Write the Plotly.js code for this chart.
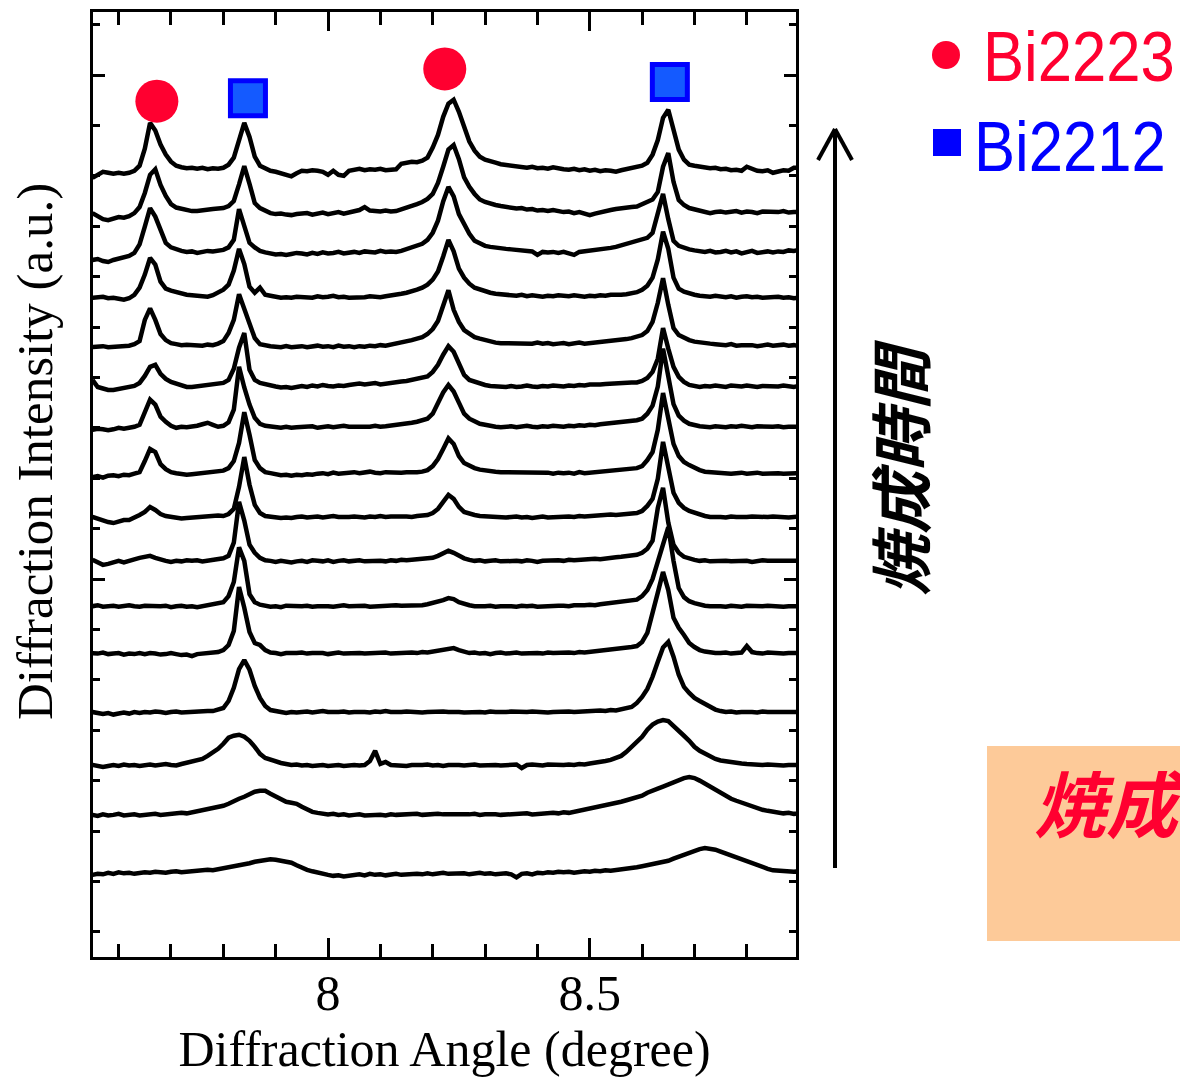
<!DOCTYPE html>
<html>
<head>
<meta charset="utf-8">
<script src="https://cdn.plot.ly/plotly-3.0.1.min.js"></script>
<style>
  html, body { margin: 0; padding: 0; background: #fff; }
  #chart { width: 1180px; height: 1078px; }
</style>
</head>
<body>
<div id="chart"></div>
<script>
// Diffraction angle grid (degree), shared by every scan
const angle = [
  7.55, 7.56, 7.57, 7.58, 7.59, 7.60, 7.61, 7.62, 7.63, 7.64,
  7.65, 7.66, 7.67, 7.68, 7.69, 7.70, 7.71, 7.72, 7.73, 7.74,
  7.75, 7.76, 7.77, 7.78, 7.79, 7.80, 7.81, 7.82, 7.83, 7.84,
  7.85, 7.86, 7.87, 7.88, 7.89, 7.90, 7.91, 7.92, 7.93, 7.94,
  7.95, 7.96, 7.97, 7.98, 7.99, 8.00, 8.01, 8.02, 8.03, 8.04,
  8.05, 8.06, 8.07, 8.08, 8.09, 8.10, 8.11, 8.12, 8.13, 8.14,
  8.15, 8.16, 8.17, 8.18, 8.19, 8.20, 8.21, 8.22, 8.23, 8.24,
  8.25, 8.26, 8.27, 8.28, 8.29, 8.30, 8.31, 8.32, 8.33, 8.34,
  8.35, 8.36, 8.37, 8.38, 8.39, 8.40, 8.41, 8.42, 8.43, 8.44,
  8.45, 8.46, 8.47, 8.48, 8.49, 8.50, 8.51, 8.52, 8.53, 8.54,
  8.55, 8.56, 8.57, 8.58, 8.59, 8.60, 8.61, 8.62, 8.63, 8.64,
  8.65, 8.66, 8.67, 8.68, 8.69, 8.70, 8.71, 8.72, 8.73, 8.74,
  8.75, 8.76, 8.77, 8.78, 8.79, 8.80, 8.81, 8.82, 8.83, 8.84,
  8.85, 8.86, 8.87, 8.88, 8.89, 8.90
];

// Intensity of each scan (a.u.), relative to its own baseline.
// scan01 = shortest sintering time (bottom), scan16 = longest (top).
const scan01 = [
  -0.4, -0.2, -0.3, 0.0, -0.2, 0.1, -0.1, 0.0, -0.2, 0.0,
  0.1, 0.0, 0.2, 0.1, 0.0, 0.2, 0.3, 0.1, 0.2, 0.4,
  0.3, 0.5, 0.6, 0.5, 0.7, 0.8, 1.0, 1.2, 1.3, 1.6,
  1.9, 2.2, 2.4, 2.6, 2.7, 2.6, 2.4, 2.3, 2.0, 1.5,
  1.0, 0.6, 0.3, 0.0, -0.2, -0.4, -0.6, -0.5, -0.7, -0.5,
  -0.4, -0.3, -0.5, -0.2, -0.4, -0.3, -0.5, -0.4, -0.2, -0.4,
  -0.3, -0.4, -0.2, -0.3, -0.1, -0.3, -0.2, 0.0, -0.2, -0.1,
  -0.2, -0.1, -0.3, -0.2, 0.0, -0.2, -0.1, -0.3, -0.2, -0.1,
  -0.3, -0.9, -0.2, -0.1, -0.3, 0.0, -0.1, 0.1, 0.0, 0.2,
  0.1, 0.2, 0.0, 0.2, 0.3, 0.2, 0.4, 0.3, 0.5, 0.4,
  0.5, 0.6, 0.8, 1.0, 1.1, 1.3, 1.5, 1.6, 1.8, 2.0,
  2.4, 2.8, 3.2, 3.6, 4.0, 4.4, 4.7, 4.9, 4.8, 4.6,
  4.2, 3.8, 3.4, 3.0, 2.6, 2.2, 1.8, 1.4, 1.1, 0.8,
  0.5, 0.4, 0.2, 0.3, 0.2, 0.3
];
const scan02 = [
  0.0, -0.2, 0.1, -0.1, 0.0, 0.2, -0.1, 0.0, 0.1, -0.1,
  0.0, 0.1, 0.2, 0.0, 0.1, 0.3, 0.2, 0.4, 0.3, 0.5,
  0.6, 0.8, 1.0, 1.2, 1.5, 1.8, 2.2, 2.8, 3.2, 3.6,
  4.2, 4.6, 4.8, 4.8, 4.2, 3.6, 3.0, 2.6, 2.4, 2.2,
  1.6, 1.0, 0.6, 0.4, 0.2, 0.1, 0.2, 0.0, 0.1, -0.1,
  0.0, 0.1, -0.1, 0.0, 0.1, 0.0, -0.1, 0.1, 0.0, 0.1,
  0.0, 0.1, 0.2, 0.0, 0.1, 0.0, 0.2, 0.1, 0.0, 0.1,
  0.1, 0.0, 0.1, 0.2, 0.0, 0.1, 0.2, 0.1, 0.0, 0.1,
  0.2, 0.1, 0.2, 0.3, 0.1, 0.2, 0.3, 0.2, 0.4, 0.3,
  0.5, 0.4, 0.6, 0.8, 1.0, 1.2, 1.4, 1.6, 1.8, 2.1,
  2.4, 2.6, 2.9, 3.2, 3.5, 3.8, 4.4, 4.9, 5.2, 5.6,
  6.0, 6.5, 7.0, 7.3, 7.5, 7.3, 6.8, 6.2, 5.4, 4.8,
  4.2, 3.6, 3.2, 2.8, 2.4, 2.0, 1.6, 1.4, 1.0, 0.8,
  0.6, 0.5, 0.3, 0.4, 0.2, 0.3
];
const scan03 = [
  0.0, -0.2, -0.4, -0.2, 0.0, -0.2, 0.1, -0.1, 0.0, -0.2,
  0.0, 0.1, -0.1, 0.0, 0.2, 0.0, -0.1, 0.2, 0.4, 0.6,
  0.8, 1.2, 1.8, 2.4, 3.2, 4.2, 5.4, 5.8, 6.0, 5.6,
  4.8, 3.6, 2.2, 1.4, 1.0, 0.6, 0.4, 0.2, 0.0, 0.1,
  -0.1, 0.0, -0.2, -0.1, 0.0, -0.2, -0.1, 0.0, -0.2, 0.0,
  0.0, -0.1, 0.0, 0.8, 2.8, 0.2, 0.6, 0.0, -0.1, 0.0,
  -0.2, 0.0, -0.1, 0.0, 0.1, -0.1, 0.0, -0.2, 0.0, 0.1,
  0.0, -0.1, 0.0, 0.1, -0.1, 0.0, 0.1, 0.0, -0.1, 0.0,
  0.0, 0.1, -0.6, 0.0, 0.1, 0.0, -0.1, 0.1, 0.0, 0.1,
  0.0, 0.1, 0.0, 0.2, 0.1, 0.3, 0.4, 0.6, 0.8, 1.0,
  1.4, 1.8, 2.6, 3.6, 4.6, 5.6, 7.0, 8.0, 8.6, 8.9,
  8.7, 7.8, 6.8, 5.8, 4.8, 3.6, 2.8, 2.2, 1.6, 1.2,
  0.9, 0.7, 0.5, 0.4, 0.3, 0.2, 0.1, 0.2, 0.0, 0.1,
  0.0, 0.1, -0.1, 0.0, 0.1, 0.0
];
const scan04 = [
  0.0, -0.2, -0.4, -0.2, -0.5, -0.3, -0.1, -0.3, 0.0, -0.2,
  0.0, -0.1, 0.1, 0.0, -0.2, 0.0, 0.1, -0.1, 0.0, 0.1,
  0.0, 0.1, 0.2, 0.2, 0.4, 0.8, 2.2, 4.8, 8.5, 10.3,
  8.4, 5.2, 2.8, 1.2, 0.4, 0.1, 0.0, -0.2, 0.0, -0.1,
  0.0, 0.1, -0.1, 0.0, 0.2, 0.0, -0.1, 0.0, 0.1, -0.1,
  0.0, 0.1, 0.0, -0.1, 0.1, 0.0, 0.2, 0.0, -0.1, 0.0,
  0.1, 0.0, 0.1, -0.1, 0.0, 0.1, 0.2, 0.1, 0.0, 0.1,
  0.0, -0.1, 0.0, 0.1, 0.0, -0.1, 0.1, 0.0, -0.1, 0.0,
  0.1, 0.0, -0.1, 0.0, 0.1, 0.0, 0.1, -0.1, 0.0, 0.1,
  0.0, 0.1, 0.0, 0.1, 0.2, 0.1, 0.2, 0.3, 0.2, 0.4,
  0.3, 0.5, 0.6, 1.0, 1.8, 3.0, 4.6, 7.0, 10.0, 12.8,
  13.9, 11.0, 7.4, 5.0, 3.8, 2.8, 2.2, 1.6, 1.0, 0.5,
  0.2, 0.0, 0.1, -0.1, 0.0, 0.1, 0.0, -0.1, 0.1, 0.0,
  0.0, 0.1, -0.1, 0.0, 0.1, 0.0
];
const scan05 = [
  0.0, -0.1, 0.1, -0.2, -0.1, 0.0, -0.3, -0.1, -0.2, 0.0,
  -0.2, 0.0, -0.1, -0.3, -0.2, 0.0, -0.2, -0.4, -0.3, -0.6,
  -0.2, -0.1, 0.0, 0.1, 0.2, 0.6, 1.6, 4.4, 13.1, 9.0,
  4.2, 2.0, 1.6, 0.6, 0.1, 0.0, -0.2, 0.0, -0.1, 0.0,
  0.1, -0.1, 0.0, 0.1, 0.0, -0.2, 0.0, 0.1, -0.1, 0.0,
  0.1, 0.0, -0.1, 0.0, 0.1, 0.0, 0.1, -0.1, 0.0, 0.1,
  0.0, 0.1, 0.0, 0.2, 0.1, 0.3, 0.4, 0.6, 0.8, 1.0,
  0.6, 0.2, 0.0, 0.1, -0.1, 0.0, -0.2, 0.0, 0.1, -0.1,
  0.0, 0.1, -0.1, 0.0, 0.1, 0.0, -0.1, 0.1, 0.0, 0.1,
  0.0, 0.1, 0.0, 0.2, 0.1, 0.2, 0.3, 0.4, 0.5, 0.7,
  0.8, 0.9, 1.0, 1.2, 1.4, 2.2, 4.0, 7.6, 12.0, 16.1,
  12.5, 7.0, 5.0, 3.6, 2.0, 1.2, 0.6, 0.3, 0.1, 0.0,
  0.0, 0.1, -0.1, 0.0, 0.1, 1.4, 0.2, 0.0, -0.1, 0.1,
  0.0, 0.1, -0.1, 0.0, 0.1, 0.0
];
const scan06 = [
  0.0, 0.2, -0.1, 0.0, 0.1, -0.1, 0.0, 0.2, 0.0, -0.1,
  0.1, 0.0, -0.1, 0.0, 0.1, -0.2, 0.0, 0.1, -0.1, 0.0,
  -0.2, 0.0, 0.2, 0.4, 0.5, 0.8, 2.0, 4.8, 11.7, 9.0,
  2.4, 0.8, 0.3, 0.0, -0.1, 0.0, -0.2, 0.1, 0.0, -0.1,
  0.0, 0.1, -0.1, 0.0, 0.1, 0.0, -0.1, 0.0, 0.2, 0.0,
  0.1, 0.0, 0.1, -0.1, 0.0, 0.1, 0.0, 0.1, 0.2, 0.1,
  0.1, 0.2, 0.1, 0.2, 0.4, 0.6, 0.8, 1.2, 1.6, 1.4,
  0.8, 0.4, 0.2, 0.0, -0.1, 0.0, 0.1, -0.1, 0.0, 0.1,
  0.0, -0.1, 0.1, 0.0, 0.1, -0.1, 0.0, 0.1, 0.0, 0.1,
  0.1, 0.0, 0.2, 0.1, 0.2, 0.3, 0.2, 0.4, 0.5, 0.6,
  0.8, 0.9, 1.0, 1.1, 1.3, 2.0, 3.2, 5.4, 9.0, 12.0,
  15.7, 9.0, 3.6, 1.8, 1.0, 0.6, 0.3, 0.1, 0.0, 0.1,
  0.0, -0.1, 0.1, 0.0, -0.1, 0.1, 0.0, -0.1, 0.0, 0.1,
  0.0, 0.1, -0.1, 0.0, 0.1, 0.0
];
const scan07 = [
  0.2, -0.4, -0.8, -0.6, -0.2, 0.0, -0.3, 0.1, 0.3, 0.6,
  0.7, 1.0, 0.6, 0.2, 0.0, -0.2, 0.0, -0.1, 0.1, 0.0,
  0.1, -0.1, 0.0, 0.2, 0.3, 0.5, 1.0, 3.6, 11.7, 8.0,
  3.2, 1.6, 0.6, 0.1, 0.0, -0.2, 0.0, -0.1, -0.3, -0.1,
  0.0, -0.2, 0.1, 0.0, -0.1, 0.1, -0.2, 0.0, 0.1, -0.1,
  0.0, 0.1, -0.1, 0.0, 0.1, 0.0, -0.1, 0.1, 0.0, 0.2,
  0.1, 0.2, 0.1, 0.3, 0.4, 0.6, 1.0, 1.6, 2.0, 1.6,
  1.0, 0.5, 0.2, 0.0, 0.1, -0.1, 0.0, 0.1, -0.1, 0.0,
  0.1, 0.0, -0.1, 0.1, 0.0, -0.2, 0.0, 0.1, 0.0, 0.1,
  0.0, 0.2, 0.1, 0.2, 0.3, 0.2, 0.4, 0.3, 0.5, 0.6,
  0.7, 0.8, 0.9, 1.0, 1.2, 1.6, 2.4, 4.0, 10.5, 14.5,
  7.6, 3.2, 1.6, 0.8, 0.4, 0.2, 0.0, 0.1, -0.1, 0.0,
  0.1, 0.0, -0.1, 0.0, 0.1, 0.0, -0.2, 0.0, 0.1, 0.0,
  0.0, 0.1, -0.1, 0.0, 0.1, 0.0
];
const scan08 = [
  0.0, -0.4, -0.8, -1.0, -1.2, -0.9, -0.6, -0.6, -0.2, 0.4,
  1.0, 2.0, 1.4, 0.6, 0.2, 0.0, -0.2, -0.3, -0.2, -0.1,
  -0.1, 0.0, 0.2, 0.1, 0.3, 0.2, 0.6, 1.6, 6.0, 11.9,
  6.4, 2.4, 0.8, 0.2, 0.0, -0.1, -0.2, -0.1, -0.2, 0.0,
  0.1, -0.1, 0.0, 0.1, -0.1, 0.0, 0.2, 0.0, -0.1, 0.0,
  0.1, 0.0, -0.1, 0.1, 0.0, 0.2, 0.0, 0.1, 0.0, 0.1,
  0.1, 0.0, 0.2, 0.3, 0.4, 0.8, 1.6, 3.0, 4.4, 3.6,
  2.0, 1.0, 0.6, 0.4, 0.2, 0.1, 0.0, -0.1, 0.0, -0.1,
  0.0, 0.1, -0.1, 0.0, -0.2, 0.0, 0.1, -0.1, 0.0, 0.1,
  0.0, 0.1, 0.0, 0.2, 0.1, 0.2, 0.3, 0.2, 0.4, 0.5,
  0.4, 0.5, 0.6, 0.7, 0.8, 1.2, 2.2, 3.6, 7.6, 14.9,
  9.6, 4.8, 2.8, 1.8, 1.2, 0.8, 0.5, 0.2, 0.0, 0.1,
  0.0, -0.1, 0.1, 0.0, -0.1, 0.0, 0.1, 0.0, -0.1, 0.0,
  0.1, 0.0, 0.0, -0.1, 0.0, 0.1
];
const scan09 = [
  -0.8, -0.6, -0.9, -0.5, -0.4, -0.6, -0.3, -0.4, -0.1, 0.2,
  2.4, 4.8, 4.2, 1.8, 0.8, 0.2, 0.0, -0.2, -0.3, -0.2,
  -0.1, 0.0, 0.2, 0.3, 0.4, 0.5, 1.0, 2.4, 6.0, 12.1,
  7.6, 2.6, 1.0, 0.2, 0.0, -0.2, -0.4, -0.3, -0.5, -0.3,
  -0.4, -0.2, -0.3, -0.1, 0.0, -0.2, 0.1, -0.1, 0.0, 0.2,
  0.2, 0.0, 0.1, 0.3, 0.1, 0.0, 0.2, 0.1, 0.2, 0.1,
  0.2, 0.1, 0.2, 0.3, 0.6, 1.4, 2.8, 4.8, 6.9, 5.8,
  3.4, 2.0, 1.4, 1.0, 0.7, 0.5, 0.4, 0.3, 0.2, 0.2,
  0.1, 0.2, 0.0, 0.2, 0.1, 0.0, 0.2, 0.1, -0.1, 0.1,
  0.0, 0.1, -0.1, 0.2, 0.0, 0.1, 0.2, 0.1, 0.3, 0.4,
  0.5, 0.6, 0.7, 0.8, 1.0, 1.4, 2.6, 4.2, 8.6, 15.9,
  11.0, 5.8, 3.4, 2.2, 1.6, 1.0, 0.6, 0.3, 0.2, 0.1,
  0.0, 0.1, -0.1, 0.0, 0.1, -0.1, 0.0, 0.1, -0.1, 0.0,
  0.1, 0.0, -0.1, 0.0, 0.1, 0.0
];
const scan10 = [
  -0.6, -0.4, -0.5, -0.7, -0.5, -0.2, -0.4, -0.3, 0.0, 0.4,
  2.8, 5.4, 4.4, 2.0, 1.0, 0.2, -0.2, 0.0, -0.1, 0.0,
  0.2, 0.5, 0.8, 0.4, 0.0, 0.2, 0.9, 3.4, 11.9, 7.8,
  4.4, 1.8, 0.6, 0.2, 0.0, -0.1, -0.2, 0.0, -0.2, -0.1,
  0.0, -0.1, 0.1, -0.2, 0.0, 0.1, -0.1, 0.0, 0.2, 0.0,
  0.0, 0.1, -0.1, 0.0, 0.2, 0.0, 0.1, 0.2, 0.3, 0.5,
  0.6, 0.8, 1.0, 1.2, 1.6, 2.6, 4.6, 6.8, 8.3, 7.0,
  4.8, 2.6, 1.6, 1.0, 0.6, 0.4, 0.1, 0.0, -0.1, 0.0,
  0.1, -0.1, 0.0, 0.2, 0.0, -0.1, 0.1, 0.0, 0.2, 0.1,
  0.0, 0.2, 0.1, 0.3, 0.2, 0.4, 0.3, 0.5, 0.6, 0.8,
  0.8, 0.9, 1.0, 1.1, 1.3, 1.6, 2.6, 4.2, 8.0, 15.5,
  10.5, 4.5, 2.2, 1.2, 0.6, 0.3, 0.1, 0.0, -0.1, 0.1,
  0.0, -0.1, 0.1, 0.0, 0.2, 0.0, -0.1, 0.1, 0.0, -0.1,
  0.0, 0.1, -0.1, 0.0, 0.1, 0.0
];
const scan11 = [
  1.2, -0.2, -0.5, -0.8, -0.8, -0.6, -0.5, -0.3, 0.0, 0.6,
  2.0, 3.8, 4.2, 2.4, 1.4, 0.8, 0.4, 0.2, -0.2, -0.2,
  -0.1, 0.0, 0.2, 0.3, 0.4, 0.6, 1.2, 3.4, 7.6, 10.5,
  3.2, 1.2, 0.6, 0.3, 0.1, -0.1, -0.3, -0.2, -0.4, -0.2,
  0.0, -0.2, 0.1, -0.1, 0.2, 0.0, -0.1, 0.1, 0.0, 0.2,
  0.4, 0.5, 0.3, 0.4, 0.6, 0.3, 0.5, 0.6, 0.7, 0.9,
  1.0, 1.2, 1.4, 1.6, 1.9, 2.8, 4.2, 6.2, 7.9, 6.8,
  4.4, 2.2, 1.2, 0.8, 0.4, 0.2, 0.0, -0.1, 0.0, -0.2,
  0.0, -0.2, -0.1, 0.1, -0.1, -0.2, 0.0, -0.1, 0.1, 0.0,
  -0.1, 0.1, 0.0, 0.2, 0.1, 0.3, 0.2, 0.3, 0.4, 0.5,
  0.4, 0.5, 0.6, 0.7, 0.7, 1.0, 1.6, 2.8, 5.4, 11.5,
  7.4, 3.8, 1.8, 0.8, 0.2, 0.0, -0.2, 0.0, -0.1, 0.1,
  0.0, -0.2, 0.1, 0.0, -0.1, 0.1, 0.0, -0.2, 0.0, -0.1,
  0.0, -0.1, 0.1, 0.0, -0.2, 0.0
];
const scan12 = [
  -0.4, -0.3, -0.2, -0.4, -0.3, -0.2, -0.3, -0.1, 0.2, 0.8,
  5.0, 7.3, 5.0, 2.2, 1.0, 0.4, 0.2, 0.0, 0.1, 0.0,
  0.0, -0.1, 0.1, 0.0, 0.3, 0.8, 2.4, 5.0, 10.1, 7.0,
  4.0, 1.4, 0.2, -0.1, -0.2, -0.3, -0.4, -0.2, -0.4, -0.3,
  -0.2, -0.4, -0.3, -0.1, -0.3, -0.2, -0.4, -0.1, -0.3, -0.2,
  -0.4, -0.2, -0.3, -0.1, -0.2, 0.0, -0.1, 0.1, 0.2, 0.6,
  0.8, 1.0, 1.3, 1.6, 2.2, 3.2, 4.8, 8.0, 10.9, 7.0,
  4.6, 3.0, 2.2, 1.6, 1.3, 1.0, 0.8, 0.5, 0.4, 0.4,
  0.3, 0.4, 0.2, 0.4, 0.3, 0.5, 0.3, 0.4, 0.2, 0.3,
  0.4, 0.2, 0.3, 0.5, 0.3, 0.4, 0.6, 0.5, 0.7, 0.8,
  0.9, 1.0, 1.2, 1.4, 1.6, 2.0, 2.8, 4.6, 8.4, 13.3,
  8.0, 3.4, 2.0, 1.4, 1.0, 0.7, 0.5, 0.4, 0.3, 0.2,
  0.1, 0.0, 0.2, -0.1, 0.0, 0.1, 0.0, -0.2, 0.0, 0.1,
  -0.1, 0.0, 0.1, -0.1, 0.0, -0.2
];
const scan13 = [
  -0.2, -0.2, 0.0, -0.3, -0.2, -0.4, -0.6, -0.3, 0.4, 1.8,
  4.4, 7.7, 6.4, 3.0, 1.6, 1.2, 0.9, 0.6, 0.4, 0.3,
  0.2, 0.1, 0.0, 0.3, 0.8, 1.4, 2.4, 5.2, 9.5, 6.5,
  2.0, 0.8, 1.8, 0.4, 0.2, 0.0, -0.2, -0.1, -0.2, 0.0,
  -0.1, 0.0, -0.2, 0.1, -0.1, 0.0, 0.2, -0.1, 0.0, -0.2,
  -0.2, 0.0, -0.1, 0.1, 0.0, -0.1, 0.1, 0.2, 0.3, 0.6,
  0.8, 1.0, 1.4, 1.8, 2.4, 3.4, 5.0, 8.0, 11.3, 9.0,
  5.6, 3.8, 2.6, 1.8, 1.4, 1.0, 0.8, 0.6, 0.5, 0.4,
  0.3, 0.2, 0.4, 0.1, 0.3, 0.2, 0.0, 0.2, 0.1, 0.3,
  0.2, 0.1, 0.3, 0.2, 0.0, 0.2, 0.1, 0.3, 0.2, 0.4,
  0.3, 0.4, 0.5, 0.7, 0.9, 1.4, 2.2, 3.8, 7.4, 12.9,
  9.5, 3.8, 1.6, 1.0, 0.6, 0.4, 0.2, 0.1, 0.0, 0.2,
  0.0, -0.1, 0.1, -0.2, 0.0, 0.1, -0.1, 0.0, -0.2, -0.1,
  -0.1, 0.0, -0.2, -0.1, -0.3, -0.2
];
const scan14 = [
  -1.6, -1.4, -1.8, -2.0, -1.6, -1.4, -1.2, -0.8, -0.2, 1.5,
  5.0, 8.7, 7.0, 4.2, 1.8, 0.9, 0.5, 0.2, 0.0, 0.1,
  -0.2, 0.0, 0.2, 0.1, 0.3, 0.4, 0.9, 2.4, 8.5, 5.4,
  1.8, 0.9, 0.2, -0.1, -0.3, -0.5, -0.4, -0.6, -0.4, -0.2,
  -0.3, -0.5, -0.2, -0.4, -0.1, -0.3, -0.2, 0.0, -0.3, -0.1,
  0.0, -0.2, 0.1, 0.0, -0.1, 0.2, 0.0, 0.1, 0.0, 0.2,
  0.5, 0.8, 1.1, 1.6, 2.4, 3.8, 6.2, 10.0, 12.9, 11.0,
  7.5, 5.4, 3.6, 2.2, 1.6, 1.2, 1.0, 0.8, 0.7, 0.6,
  0.5, 0.4, 0.3, 0.2, 0.1, -0.6, 0.0, -0.1, 0.0, -0.2,
  0.0, -0.3, -0.6, 0.0, 0.1, 0.2, 0.3, 0.5, 0.6, 0.8,
  1.0, 1.3, 1.5, 1.7, 2.0, 2.4, 2.8, 3.8, 7.5, 11.5,
  6.5, 2.2, 1.2, 0.8, 0.5, 0.3, 0.2, 0.0, 0.2, -0.1,
  0.0, 0.2, -0.1, 0.1, -0.3, 0.0, 0.2, -0.2, 0.0, 0.1,
  -0.1, 0.1, 0.0, 0.3, 0.2, 0.4
];
const scan15 = [
  -0.2, -0.8, -1.4, -1.6, -1.2, -1.0, -1.1, -0.8, -0.2, 1.0,
  3.8, 7.4, 8.5, 5.4, 3.2, 1.6, 0.9, 0.6, 0.4, 0.2,
  0.2, 0.4, 0.5, 0.6, 0.7, 0.8, 1.2, 2.2, 5.5, 9.1,
  5.6, 1.8, 0.8, 0.2, -0.2, -0.4, -0.3, -0.5, -0.6, -0.4,
  -0.4, -0.2, -0.5, -0.3, -0.1, -0.4, -0.2, 0.0, -0.3, -0.1,
  0.2, 0.4, 1.0, 0.3, 0.2, 0.1, 0.3, 0.1, 0.2, 0.5,
  0.9, 1.3, 1.6, 2.0, 2.6, 3.6, 5.8, 9.0, 12.4, 13.3,
  10.5, 6.9, 5.0, 3.6, 2.5, 2.0, 1.6, 1.4, 1.2, 1.0,
  0.9, 0.7, 0.8, 0.5, 0.6, 0.3, 0.4, 0.2, 0.4, 0.1,
  0.0, 0.1, -0.2, 0.0, -0.3, -0.6, -0.3, 0.0, 0.2, 0.4,
  0.6, 0.8, 0.8, 1.0, 1.1, 1.6, 2.0, 2.5, 4.0, 9.0,
  11.7, 6.0, 2.4, 1.4, 0.8, 0.5, 0.3, 0.0, -0.2, 0.0,
  0.1, -0.1, 0.0, 0.2, -0.1, 0.1, 0.0, -0.2, 0.1, 0.0,
  0.1, 0.0, 0.2, -0.1, 0.0, 0.1
];
const scan16 = [
  -1.2, -0.6, 0.0, -0.2, -0.4, -0.2, -0.4, -0.2, 0.2, 1.2,
  4.6, 9.7, 8.2, 5.4, 3.4, 2.0, 1.2, 0.9, 0.7, 0.8,
  0.6, 0.8, 0.5, 0.7, 0.6, 0.8, 1.4, 2.8, 6.3, 9.7,
  6.9, 3.0, 1.2, 0.6, 0.2, 0.0, -0.3, -0.4, -0.9, -0.3,
  0.2, 0.1, 0.3, 0.2, 0.0, -0.6, 0.2, -0.6, -0.8, 0.2,
  0.4, 0.6, 0.3, 0.5, 0.4, 0.6, 0.3, 0.4, 0.5, 1.6,
  1.8, 2.0, 1.9, 2.2, 2.8, 4.8, 7.3, 10.9, 13.5, 14.3,
  11.9, 8.7, 6.0, 4.2, 3.0, 2.4, 2.0, 1.8, 1.5, 1.4,
  1.2, 1.0, 1.1, 0.8, 1.0, 0.7, 0.8, 0.6, 0.9, 0.6,
  0.5, 0.4, 0.6, 0.3, 0.5, 0.2, 0.4, 0.1, 0.3, 0.2,
  0.0, 0.3, 0.5, 0.6, 0.8, 1.2, 1.8, 3.4, 6.3, 10.7,
  12.3, 8.7, 4.4, 2.4, 1.4, 1.2, 1.0, 0.9, 0.7, 0.8,
  0.5, 0.6, 0.3, 0.4, 0.2, 1.0, 0.5, 0.2, 0.1, 0.3,
  -0.2, 0.0, 0.3, 0.2, 0.8, 0.8
];

// Vertical stacking offset of each scan (a.u.), scan01 first
const stackOffset = [16.7, 28.2, 38.1, 48.6, 60.3, 69.6, 78.6, 87.3,
                     96.0, 105.2, 113.3, 121.4, 131.0, 139.9, 147.8, 155.8];

// Peak labels placed above the top scan
const bi2223Angle = [7.673, 8.223];
const bi2223Level = [169.8, 176.2];
const bi2212Angle = [7.847, 8.653];
const bi2212Level = [170.4, 173.6];

const scans = [scan01, scan02, scan03, scan04, scan05, scan06, scan07, scan08,
               scan09, scan10, scan11, scan12, scan13, scan14, scan15, scan16];

const SERIF = 'Liberation Serif, Times New Roman, serif';
const KEYFONT = 'Liberation Sans, Arial, sans-serif';
const CJK = 'Noto Sans CJK JP, Noto Sans CJK SC, sans-serif';
const RED = '#ff0030';
const BLUE = '#0000ff';

const traces = scans.map((scan, k) => ({
  type: 'scatter',
  mode: 'lines',
  name: 'scan ' + (k + 1),
  x: angle,
  y: scan.map(v => v + stackOffset[k]),
  line: {color: '#000', width: 4.5, shape: 'linear'},
  hoverinfo: 'skip'
}));

traces.push({
  type: 'scatter', mode: 'markers', name: 'Bi2223',
  x: bi2223Angle, y: bi2223Level, cliponaxis: false,
  marker: {symbol: 'circle', size: 43, color: RED, line: {width: 0}}
});
traces.push({
  type: 'scatter', mode: 'markers', name: 'Bi2212',
  x: bi2212Angle, y: bi2212Level, cliponaxis: false,
  marker: {symbol: 'square', size: 35, color: '#145aff', line: {color: BLUE, width: 5}}
});

// plot area in pixels: x 93..796, y 12..957
const PW = 703, PH = 945;
const px = p => (p - 93) / PW;
const py = p => (957 - p) / PH;

const shapes = [
  // orange box at the lower right
  {type: 'rect', xref: 'paper', yref: 'paper', x0: px(987), x1: px(1260), y0: py(941), y1: py(746),
   fillcolor: '#fdca99', line: {width: 0}, layer: 'below'},
  // arrow: shaft and open head
  {type: 'line', xref: 'paper', yref: 'paper', x0: px(835), x1: px(835), y0: py(868), y1: py(130),
   line: {color: '#000', width: 4}},
  {type: 'line', xref: 'paper', yref: 'paper', x0: px(818), x1: px(835), y0: py(160), y1: py(129),
   line: {color: '#000', width: 4}},
  {type: 'line', xref: 'paper', yref: 'paper', x0: px(852), x1: px(835), y0: py(160), y1: py(129),
   line: {color: '#000', width: 4}},
  // key symbols
  {type: 'circle', xref: 'paper', yref: 'paper', x0: px(932), x1: px(960), y0: py(69), y1: py(41),
   fillcolor: RED, line: {width: 0}},
  {type: 'rect', xref: 'paper', yref: 'paper', x0: px(933), x1: px(961), y0: py(156), y1: py(129),
   fillcolor: BLUE, line: {width: 0}}
];

const annotations = [
  {text: 'Diffraction Intensity (a.u.)', xref: 'paper', yref: 'paper', x: px(35), y: py(452),
   xanchor: 'center', yanchor: 'middle', textangle: -90, showarrow: false,
   font: {family: SERIF, size: 51, color: '#000'}},
  {text: 'Bi2223', xref: 'paper', yref: 'paper', x: px(981), y: py(57),
   xanchor: 'left', yanchor: 'middle', showarrow: false,
   font: {family: KEYFONT, size: 70, color: RED}},
  {text: 'Bi2212', xref: 'paper', yref: 'paper', x: px(972), y: py(147),
   xanchor: 'left', yanchor: 'middle', showarrow: false,
   font: {family: KEYFONT, size: 70, color: BLUE}},
  {text: '焼成時間', xref: 'paper', yref: 'paper', x: px(898), y: py(468),
   xanchor: 'center', yanchor: 'middle', textangle: -90, showarrow: false,
   font: {family: CJK, size: 62, color: '#000', weight: 700, style: 'italic'}},
  {text: '焼成', xref: 'paper', yref: 'paper', x: px(1032), y: py(800),
   xanchor: 'left', yanchor: 'middle', showarrow: false,
   font: {family: CJK, size: 72, color: RED, weight: 700, style: 'italic'}}
];

const layout = {
  width: 1180, height: 1078,
  margin: {l: 93, r: 384, t: 12, b: 121, pad: 0},
  paper_bgcolor: '#fff', plot_bgcolor: '#fff',
  showlegend: false,
  xaxis: {
    range: [7.551, 8.894],
    tick0: 0, dtick: 0.5,
    ticks: 'inside', ticklen: 19, tickwidth: 3, tickcolor: '#000',
    minor: {tick0: 0, dtick: 0.1, ticks: 'inside', ticklen: 13, tickwidth: 3, tickcolor: '#000', showgrid: false},
    showline: true, linewidth: 3, linecolor: '#000', mirror: 'ticks',
    showgrid: false, zeroline: false,
    ticklabelstandoff: -10,
    tickfont: {family: SERIF, size: 50, color: '#000'},
    title: {text: 'Diffraction Angle (degree)', font: {family: SERIF, size: 50, color: '#000'}, standoff: 4}
  },
  yaxis: {
    range: [0, 187.5],
    tick0: 75, dtick: 100,
    ticks: 'inside', ticklen: 12, tickwidth: 3, tickcolor: '#000',
    minor: {tick0: 5, dtick: 10, ticks: 'inside', ticklen: 7, tickwidth: 3, tickcolor: '#000', showgrid: false},
    showticklabels: false,
    showline: true, linewidth: 3, linecolor: '#000', mirror: 'ticks',
    showgrid: false, zeroline: false
  },
  shapes: shapes,
  annotations: annotations
};

Plotly.newPlot('chart', traces, layout, {displayModeBar: false, staticPlot: true}).then(gd => {
  // the key labels use a condensed face: squeeze them horizontally about their left edge
  const squeeze = {'Bi2223': 0.88, 'Bi2212': 0.88};
  gd.querySelectorAll('text.annotation-text').forEach(t => {
    const k = squeeze[t.textContent];
    if (!k) return;
    const b = t.getBBox();
    const prev = t.getAttribute('transform') || '';
    t.setAttribute('transform', prev + ' translate(' + b.x + ',0) scale(' + k + ',1) translate(' + (-b.x) + ',0)');
  });
});
</script>
</body>
</html>
